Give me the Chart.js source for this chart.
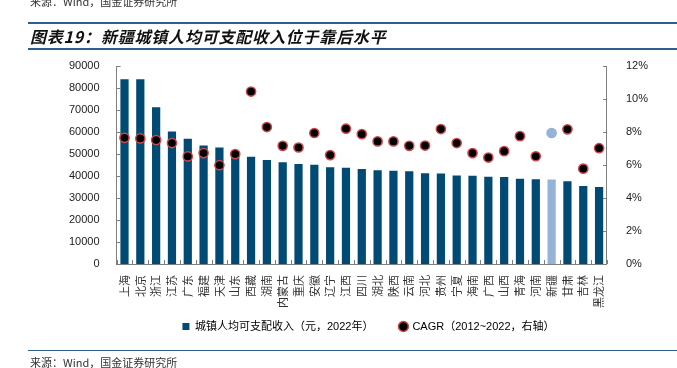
<!DOCTYPE html>
<html>
<head>
<meta charset="utf-8">
<script src="https://cdn.jsdelivr.net/npm/chart.js@4"></script>
<style>
  html,body{margin:0;padding:0;background:#fff;}
  body{width:677px;height:368px;position:relative;overflow:hidden;font-family:"Noto Sans CJK SC","Liberation Sans",sans-serif;}
  .src{position:absolute;left:30px;font-size:11px;color:#333;line-height:12px;}
  .line{position:absolute;left:28px;right:0;height:2px;background:#2f5f8c;}
  .title{position:absolute;left:30px;top:25px;font-size:16px;font-weight:bold;font-style:italic;color:#111;line-height:22px;letter-spacing:0.8px;}
  #c{position:absolute;left:0;top:0;}
</style>
</head>
<body>
<canvas id="c" width="677" height="368"></canvas>
<div class="src" style="top:-5px;">来源：Wind，国金证券研究所</div>
<div class="line" style="top:22px;"></div>
<div class="title">图表19：新疆城镇人均可支配收入位于靠后水平</div>
<div class="line" style="top:48px;"></div>
<div class="line" style="top:350px;height:1px;"></div>
<div class="src" style="top:356px;">来源：Wind，国金证券研究所</div>
<script>
const categories = ['上海','北京','浙江','江苏','广东','福建','天津','山东','西藏','湖南','内蒙古','重庆','安徽','辽宁','江西','四川','湖北','陕西','云南','河北','贵州','宁夏','海南','广西','山西','青海','河南','新疆','甘肃','吉林','黑龙江'];
const income2022 = [84034,84023,71268,60178,56905,53817,53003,49050,48753,47301,46295,45509,45133,44003,43697,43233,42626,42431,42168,41278,41086,40194,40118,39703,39532,38736,38484,38410,37572,35471,35042];
const cagr = [7.65,7.61,7.51,7.33,6.52,6.72,5.99,6.66,10.45,8.30,7.16,7.06,7.94,6.60,8.20,7.87,7.43,7.43,7.16,7.18,8.18,7.33,6.72,6.45,6.84,7.75,6.53,7.94,8.16,5.78,7.02];
const leftTicks = [0,10000,20000,30000,40000,50000,60000,70000,80000,90000];
const rightTicks = [0,2,4,6,8,10,12];
const highlight = '新疆';

const barColor = '#004a73', hiColor = '#95b3d7';
const isHi = categories.map(c => c === highlight);

const inwardTicks = {
  id: 'inwardTicks',
  afterLayout(chart) {
    if (chart.legend) { chart.legend.left += 9; chart.legend.right += 9; }
  },
  afterDatasetsDraw(chart) {
    const ctx = chart.ctx, a = chart.chartArea;
    ctx.save();
    ctx.strokeStyle = '#7f7f7f';
    ctx.lineWidth = 1;
    const y = chart.scales.y, y1 = chart.scales.y1, x = chart.scales.x;
    ctx.beginPath();
    y.ticks.forEach((t, i) => { const p = Math.round(y.getPixelForTick(i)) + 0.5; ctx.moveTo(a.left, p); ctx.lineTo(a.left + 4, p); });
    y1.ticks.forEach((t, i) => { const p = Math.round(y1.getPixelForTick(i)) + 0.5; ctx.moveTo(a.right, p); ctx.lineTo(a.right - 4, p); });
    const n = categories.length;
    for (let i = 0; i <= n; i++) {
      let p;
      if (i === 0) p = a.left; else if (i === n) p = a.right;
      else p = (x.getPixelForValue(i - 1) + x.getPixelForValue(i)) / 2;
      p = Math.round(p) + 0.5;
      ctx.moveTo(p, a.bottom); ctx.lineTo(p, a.bottom - 4);
    }
    ctx.stroke();
    ctx.restore();
  }
};

Chart.defaults.font.family = '"Liberation Sans","Noto Sans CJK SC",sans-serif';
Chart.defaults.color = '#222';

new Chart(document.getElementById('c'), {
  type: 'bar',
  data: {
    labels: categories,
    datasets: [
      {
        label: '城镇人均可支配收入（元，2022年）　　',
        data: income2022,
        yAxisID: 'y',
        backgroundColor: isHi.map(h => h ? hiColor : barColor),
        borderWidth: 0,
        barPercentage: 0.52,
        categoryPercentage: 1.0,
        order: 2
      },
      {
        type: 'line',
        label: 'CAGR（2012~2022，右轴）',
        data: cagr,
        yAxisID: 'y1',
        showLine: false,
        pointStyle: 'circle',
        pointRadius: 4.6,
        pointBorderWidth: 1.5,
        pointBackgroundColor: isHi.map(h => h ? hiColor : '#000'),
        pointBorderColor: isHi.map(h => h ? hiColor : '#d0474a'),
        backgroundColor: '#000',
        borderColor: '#d0474a',
        order: 1
      }
    ]
  },
  options: {
    responsive: false,
    animation: false,
    layout: { padding: { left: 60, right: 18, top: 66, bottom: 26 } },
    plugins: {
      tooltip: { enabled: false },
      legend: {
        position: 'bottom',
        labels: {
          usePointStyle: true,
          boxWidth: 7, boxHeight: 7,
          padding: 10,
          font: { size: 11, family: '"Liberation Sans","Noto Sans CJK SC",sans-serif' },
          color: '#222',
          generateLabels(chart) {
            return [
              { text: chart.data.datasets[0].label, fillStyle: barColor, strokeStyle: barColor, lineWidth: 0, pointStyle: 'rect', datasetIndex: 0 },
              { text: chart.data.datasets[1].label, fillStyle: '#000', strokeStyle: '#d0474a', lineWidth: 1.5, pointStyle: 'circle', datasetIndex: 1 }
            ];
          }
        }
      }
    },
    scales: {
      x: {
        offset: true,
        grid: { display: false, offset: true },
        border: { display: true, color: '#7f7f7f' },
        ticks: {
          autoSkip: false,
          maxRotation: 90, minRotation: 90,
          padding: 3,
          font: { size: 11, family: '"Noto Sans CJK SC",sans-serif' },
          color: '#333'
        }
      },
      y: {
        position: 'left',
        min: 0, max: 90000,
        afterBuildTicks(s) { s.ticks = leftTicks.map(v => ({ value: v })); },
        grid: { display: false },
        border: { display: true, color: '#7f7f7f' },
        ticks: { padding: 9, font: { size: 11 }, color: '#222', callback: v => String(v) }
      },
      y1: {
        position: 'right',
        min: 0, max: 12,
        afterBuildTicks(s) { s.ticks = rightTicks.map(v => ({ value: v })); },
        grid: { display: false },
        border: { display: true, color: '#7f7f7f' },
        ticks: { padding: 11, font: { size: 11 }, color: '#222', callback: v => v + '%' }
      }
    }
  },
  plugins: [inwardTicks]
});
</script>
</body>
</html>
